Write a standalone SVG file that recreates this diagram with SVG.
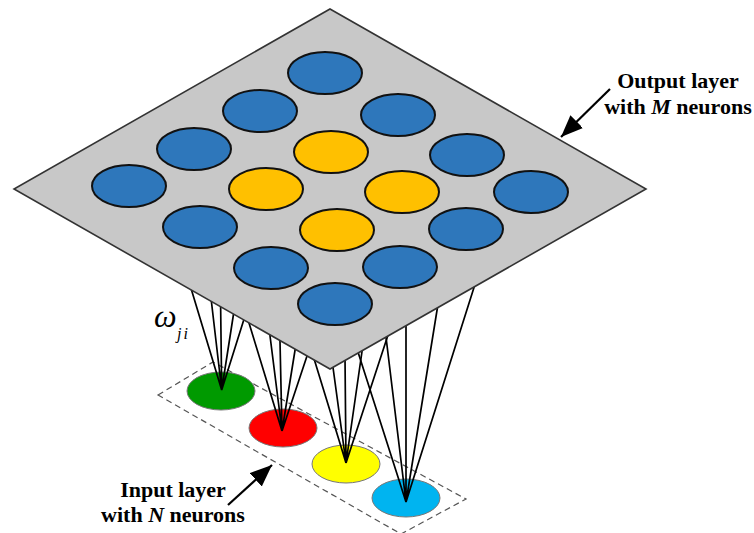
<svg xmlns="http://www.w3.org/2000/svg" width="754" height="533" viewBox="0 0 754 533">
<defs>
<style>
.plane{fill:#c8c8c8;stroke:#333;stroke-width:1.6}
.on{stroke:#111;stroke-width:2}
.blue{fill:#2e77bb}
.gold{fill:#ffc000}
.inp{stroke:#777;stroke-width:1}
.box{fill:none;stroke:#555;stroke-width:1.2;stroke-dasharray:6 4}
.w{stroke:#000;stroke-width:1.7;fill:none}
.arr{stroke:#000;stroke-width:2.2;fill:none}
</style>
<marker id="ah" markerUnits="userSpaceOnUse" markerWidth="24" markerHeight="20" refX="22" refY="9" orient="auto">
<path d="M0,0 L22,9 L0,18 Z" fill="#000"/>
</marker>
</defs>
<g id="input-layer">
<polygon class="box" points="158,395 213,362 466,499 401,534"/>
<g id="in1"><ellipse class="inp" cx="221" cy="391" rx="34" ry="19" fill="#009a00"/></g>
<g id="in2"><ellipse class="inp" cx="283" cy="428" rx="34" ry="19" fill="#ff0000"/></g>
<g id="in3"><ellipse class="inp" cx="346" cy="464" rx="34" ry="19" fill="#ffff00"/></g>
<g id="in4"><ellipse class="inp" cx="406" cy="498" rx="34" ry="19" fill="#00b4f0"/></g>
</g>
<g id="connectors">
<path class="w" d="M190,285 L221.7,390 M211,298 L221.7,390 M220.6,304 L221.7,390 M234,311 L221.7,390 M245,316 L221.7,390"/>
<path class="w" d="M248.4,321 L282,431 M269.4,331 L282,431 M279.9,337 L282,431 M295.7,346 L282,431 M308,353 L282,431"/>
<path class="w" d="M313.5,357 L346,463 M332.4,363 L346,463 M345,357 L346,463 M362.8,346 L346,463 M389,332 L346,463"/>
<path class="w" d="M358.3,353 L406,502 M386,337 L406,502 M406,319 L406,502 M439,298 L406,502 M477,278 L406,502"/>
<line class="arr" x1="610" y1="89" x2="561" y2="137" marker-end="url(#ah)"/>
<line class="arr" x1="228" y1="505" x2="272" y2="465" marker-end="url(#ah)"/>
</g>
<g id="output-layer">
<polygon class="plane" points="330,9 646,189 330,369 14,189"/>
<g id="o1"><ellipse class="on blue" cx="325" cy="73" rx="37" ry="21"/></g>
<g id="o2"><ellipse class="on blue" cx="260" cy="111" rx="37" ry="21"/></g>
<g id="o3"><ellipse class="on blue" cx="398" cy="115" rx="37" ry="21"/></g>
<g id="o4"><ellipse class="on blue" cx="194" cy="149" rx="37" ry="21"/></g>
<g id="o5"><ellipse class="on gold" cx="331" cy="152" rx="37" ry="21"/></g>
<g id="o6"><ellipse class="on blue" cx="467" cy="155" rx="37" ry="21"/></g>
<g id="o7"><ellipse class="on blue" cx="129" cy="186" rx="37" ry="21"/></g>
<g id="o8"><ellipse class="on gold" cx="266" cy="189" rx="37" ry="21"/></g>
<g id="o9"><ellipse class="on gold" cx="402" cy="192" rx="37" ry="21"/></g>
<g id="o10"><ellipse class="on blue" cx="531" cy="192" rx="37" ry="21"/></g>
<g id="o11"><ellipse class="on blue" cx="200" cy="227" rx="37" ry="21"/></g>
<g id="o12"><ellipse class="on gold" cx="337" cy="230" rx="37" ry="21"/></g>
<g id="o13"><ellipse class="on blue" cx="466" cy="229" rx="37" ry="21"/></g>
<g id="o14"><ellipse class="on blue" cx="271" cy="268" rx="37" ry="21"/></g>
<g id="o15"><ellipse class="on blue" cx="400" cy="267" rx="37" ry="21"/></g>
<g id="o16"><ellipse class="on blue" cx="335" cy="304" rx="37" ry="21"/></g>
</g>
<g id="labels" font-family="'Liberation Serif', 'Times New Roman', serif" fill="#000">
<text x="678" y="88" text-anchor="middle" font-size="22" font-weight="bold">Output layer</text>
<text x="678" y="114" text-anchor="middle" font-size="22" font-weight="bold">with <tspan font-style="italic">M</tspan> neurons</text>
<text x="173" y="497" text-anchor="middle" font-size="22" font-weight="bold">Input layer</text>
<text x="173" y="522" text-anchor="middle" font-size="22" font-weight="bold">with <tspan font-style="italic">N</tspan> neurons</text>
<text x="154" y="327" font-size="32" font-style="italic">ω</text>
<text x="177" y="339" font-size="16" font-style="italic" letter-spacing="2">ji</text>
</g>
</svg>
